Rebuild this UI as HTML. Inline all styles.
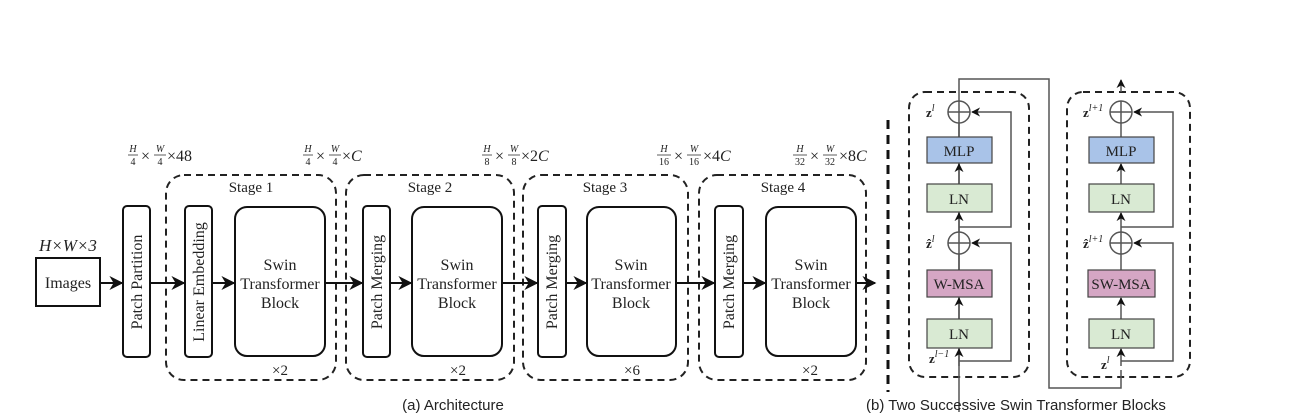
<!DOCTYPE html>
<html><head><style>
body{margin:0;background:#fff}
svg{display:block}
.t{font-family:"Liberation Serif",serif;fill:#222}
.s{font-family:"Liberation Sans",sans-serif;fill:#222}
</style></head><body>
<svg width="1309" height="418" xmlns="http://www.w3.org/2000/svg">
<defs>
<marker id="a" viewBox="0 0 10 10" refX="9" refY="5" markerWidth="7" markerHeight="7" orient="auto"><path d="M0,0 L10,5 L0,10 L3,5 z" fill="#111"/></marker>
<marker id="b" viewBox="0 0 10 10" refX="9" refY="5" markerWidth="6" markerHeight="6" orient="auto"><path d="M0,0 L10,5 L0,10 L3,5 z" fill="#111"/></marker>
</defs>
<rect width="1309" height="418" fill="#fff"/>
<g fill="none" stroke="#222" stroke-width="2" stroke-dasharray="7,5">
<rect x="166" y="175" width="170" height="205" rx="18"/>
<rect x="346" y="175" width="168" height="205" rx="18"/>
<rect x="523" y="175" width="165" height="205" rx="18"/>
<rect x="699" y="175" width="167" height="205" rx="18"/>
<rect x="909" y="92" width="120" height="285" rx="16"/>
<rect x="1067" y="92" width="123" height="285" rx="16"/>
</g>
<line x1="888" y1="120" x2="888" y2="392" stroke="#111" stroke-width="3" stroke-dasharray="9,6"/>
<g fill="#fff" stroke="#111" stroke-width="2">
<rect x="36" y="258" width="64" height="48"/>
<rect x="123" y="206" width="27" height="151" rx="4"/>
<rect x="185" y="206" width="27" height="151" rx="4"/>
<rect x="235" y="207" width="90" height="149" rx="12"/>
<rect x="363" y="206" width="27" height="151" rx="4"/>
<rect x="412" y="207" width="90" height="149" rx="12"/>
<rect x="538" y="206" width="28" height="151" rx="4"/>
<rect x="587" y="207" width="89" height="149" rx="12"/>
<rect x="715" y="206" width="28" height="151" rx="4"/>
<rect x="766" y="207" width="90" height="149" rx="12"/>
</g>
<g stroke="#111" stroke-width="2" marker-end="url(#a)">
<line x1="100" y1="283" x2="122" y2="283"/>
<line x1="150" y1="283" x2="184" y2="283"/>
<line x1="212" y1="283" x2="234" y2="283"/>
<line x1="325" y1="283" x2="362" y2="283"/>
<line x1="390" y1="283" x2="411" y2="283"/>
<line x1="502" y1="283" x2="537" y2="283"/>
<line x1="566" y1="283" x2="586" y2="283"/>
<line x1="676" y1="283" x2="714" y2="283"/>
<line x1="743" y1="283" x2="765" y2="283"/>
<line x1="856" y1="283" x2="875" y2="283"/>
</g>
<g class="t" font-size="16" text-anchor="middle">
<text x="68" y="288">Images</text>
<text x="68" y="251" font-style="italic" font-size="17">H×W×3</text>
<text transform="translate(142,282) rotate(-90)">Patch Partition</text>
<text transform="translate(204,282) rotate(-90)">Linear Embedding</text>
<text transform="translate(382,282) rotate(-90)">Patch Merging</text>
<text transform="translate(557,282) rotate(-90)">Patch Merging</text>
<text transform="translate(734,282) rotate(-90)">Patch Merging</text>
<text x="280" y="270">Swin</text><text x="280" y="289">Transformer</text><text x="280" y="308">Block</text>
<text x="457" y="270">Swin</text><text x="457" y="289">Transformer</text><text x="457" y="308">Block</text>
<text x="631" y="270">Swin</text><text x="631" y="289">Transformer</text><text x="631" y="308">Block</text>
<text x="811" y="270">Swin</text><text x="811" y="289">Transformer</text><text x="811" y="308">Block</text>
<text x="251" y="192" font-size="15">Stage 1</text>
<text x="430" y="192" font-size="15">Stage 2</text>
<text x="605" y="192" font-size="15">Stage 3</text>
<text x="783" y="192" font-size="15">Stage 4</text>
<text x="280" y="375" font-size="15">×2</text>
<text x="458" y="375" font-size="15">×2</text>
<text x="632" y="375" font-size="15">×6</text>
<text x="810" y="375" font-size="15">×2</text>
</g>
<!-- dimension labels -->
<g class="t" font-size="10" text-anchor="middle">
<text x="133" y="152" font-style="italic">H</text><text x="133" y="165">4</text>
<text x="160" y="152" font-style="italic">W</text><text x="160" y="165">4</text>
<text x="308" y="152" font-style="italic">H</text><text x="308" y="165">4</text>
<text x="335" y="152" font-style="italic">W</text><text x="335" y="165">4</text>
<text x="487" y="152" font-style="italic">H</text><text x="487" y="165">8</text>
<text x="514" y="152" font-style="italic">W</text><text x="514" y="165">8</text>
<text x="664" y="152" font-style="italic">H</text><text x="664" y="165">16</text>
<text x="694" y="152" font-style="italic">W</text><text x="694" y="165">16</text>
<text x="800" y="152" font-style="italic">H</text><text x="800" y="165">32</text>
<text x="830" y="152" font-style="italic">W</text><text x="830" y="165">32</text>
</g>
<g stroke="#333" stroke-width="0.8">
<line x1="128" y1="155" x2="138" y2="155"/><line x1="154" y1="155" x2="166" y2="155"/>
<line x1="303" y1="155" x2="313" y2="155"/><line x1="329" y1="155" x2="341" y2="155"/>
<line x1="482" y1="155" x2="492" y2="155"/><line x1="508" y1="155" x2="520" y2="155"/>
<line x1="657" y1="155" x2="671" y2="155"/><line x1="687" y1="155" x2="701" y2="155"/>
<line x1="793" y1="155" x2="807" y2="155"/><line x1="823" y1="155" x2="837" y2="155"/>
</g>
<g class="t" font-size="16">
<text x="141" y="161">×</text><text x="167" y="161">×48</text>
<text x="316" y="161">×</text><text x="342" y="161">×<tspan font-style="italic">C</tspan></text>
<text x="495" y="161">×</text><text x="521" y="161">×2<tspan font-style="italic">C</tspan></text>
<text x="674" y="161">×</text><text x="703" y="161">×4<tspan font-style="italic">C</tspan></text>
<text x="810" y="161">×</text><text x="839" y="161">×8<tspan font-style="italic">C</tspan></text>
</g>
<!-- right part -->
<g fill="none" stroke="#555" stroke-width="1.5">
<polyline points="959,412 959,79 1049,79 1049,388 1121,388 1121,370"/>
<line x1="1121" y1="92" x2="1121" y2="80" marker-end="url(#b)"/>
<polyline points="959,361 1011,361 1011,243 972,243" marker-end="url(#b)"/>
<polyline points="959,227 1011,227 1011,112 972,112" marker-end="url(#b)"/>
<polyline points="1121,361 1173,361 1173,243 1134,243" marker-end="url(#b)"/>
<polyline points="1121,227 1173,227 1173,112 1134,112" marker-end="url(#b)"/>
<circle cx="959" cy="112" r="11"/><circle cx="959" cy="243" r="11"/>
<circle cx="1121" cy="112" r="11"/><circle cx="1121" cy="243" r="11"/>
<line x1="948" y1="112" x2="970" y2="112"/><line x1="948" y1="243" x2="970" y2="243"/>
<line x1="1110" y1="112" x2="1132" y2="112"/><line x1="1110" y1="243" x2="1132" y2="243"/>
<line x1="1121" y1="101" x2="1121" y2="123"/><line x1="1121" y1="232" x2="1121" y2="254"/>
</g>
<g stroke="#555" stroke-width="1.5" marker-end="url(#b)">
<line x1="959" y1="366" x2="959" y2="349"/>
<line x1="959" y1="319" x2="959" y2="298"/>
<line x1="959" y1="232" x2="959" y2="213"/>
<line x1="959" y1="184" x2="959" y2="164"/>
<line x1="1121" y1="366" x2="1121" y2="349"/>
<line x1="1121" y1="319" x2="1121" y2="298"/>
<line x1="1121" y1="232" x2="1121" y2="213"/>
<line x1="1121" y1="184" x2="1121" y2="164"/>
</g>
<g stroke="#555" stroke-width="1.5">
<line x1="959" y1="270" x2="959" y2="254"/><line x1="959" y1="137" x2="959" y2="123"/>
<line x1="1121" y1="270" x2="1121" y2="254"/><line x1="1121" y1="137" x2="1121" y2="123"/>
</g>
<g stroke="#444" stroke-width="1.2">
<rect x="927" y="137" width="65" height="26" fill="#a9c3e8"/>
<rect x="927" y="184" width="65" height="28" fill="#d9ead3"/>
<rect x="927" y="270" width="65" height="27" fill="#d5a6c4"/>
<rect x="927" y="319" width="65" height="29" fill="#d9ead3"/>
<rect x="1089" y="137" width="65" height="26" fill="#a9c3e8"/>
<rect x="1089" y="184" width="65" height="28" fill="#d9ead3"/>
<rect x="1088" y="270" width="67" height="27" fill="#d5a6c4"/>
<rect x="1089" y="319" width="65" height="29" fill="#d9ead3"/>
</g>
<g class="t" font-size="15" text-anchor="middle">
<text x="959" y="156">MLP</text><text x="959" y="204">LN</text><text x="959" y="289">W-MSA</text><text x="959" y="339">LN</text>
<text x="1121" y="156">MLP</text><text x="1121" y="204">LN</text><text x="1121" y="289">SW-MSA</text><text x="1121" y="339">LN</text>
</g>
<g class="t" font-size="13" font-weight="bold">
<text x="926" y="117">z<tspan font-size="10" dy="-6" font-weight="normal" font-style="italic">l</tspan></text>
<text x="926" y="248">ẑ<tspan font-size="10" dy="-6" font-weight="normal" font-style="italic">l</tspan></text>
<text x="929" y="363">z<tspan font-size="10" dy="-6" font-weight="normal" font-style="italic">l−1</tspan></text>
<text x="1083" y="117">z<tspan font-size="10" dy="-6" font-weight="normal" font-style="italic">l+1</tspan></text>
<text x="1083" y="248">ẑ<tspan font-size="10" dy="-6" font-weight="normal" font-style="italic">l+1</tspan></text>
<text x="1101" y="369">z<tspan font-size="10" dy="-6" font-weight="normal" font-style="italic">l</tspan></text>
</g>
<text class="s" x="453" y="410" font-size="15" text-anchor="middle">(a) Architecture</text>
<text class="s" x="866" y="410" font-size="15">(b) Two Successive Swin Transformer Blocks</text>
</svg>
</body></html>
